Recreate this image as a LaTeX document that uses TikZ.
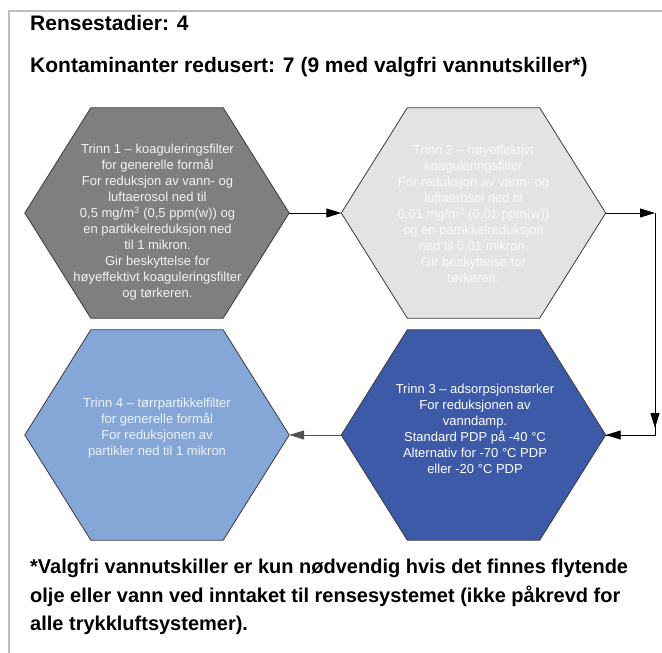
\documentclass[tikz,border=0pt]{standalone}
\usepackage{fontspec}
\setmainfont{Liberation Sans}
\usetikzlibrary{arrows.meta}
\definecolor{framegray}{HTML}{BFBFBF}
\definecolor{hexline}{HTML}{3A3A3A}
\definecolor{hexA}{HTML}{7F7F7F}
\definecolor{hexB}{HTML}{E3E3E3}
\definecolor{hexC}{HTML}{3D5AA8}
\definecolor{hexD}{HTML}{85A7D8}
\definecolor{txtA}{HTML}{F2F2F2}
\definecolor{txtB}{HTML}{F9F9F9}
\definecolor{txtD}{HTML}{EEF3FA}
\definecolor{arrgray}{HTML}{505050}
\newcommand{\hexshape}[2]{%
  \path[hexpath, fill=#2] (#1.west) -- ([xshift=66pt]#1.north west) -- ([xshift=-66pt]#1.north east)
    -- (#1.east) -- ([xshift=-66pt]#1.south east) -- ([xshift=66pt]#1.south west) -- cycle;}
\begin{document}
\begin{tikzpicture}[x=1pt,y=-1pt,
  hexbox/.style={rectangle, minimum width=264pt, minimum height=210pt, inner sep=0pt},
  hexpath/.style={draw=hexline, line width=0.8pt, line join=miter},
  hextext/.style={align=center, inner sep=0pt, font=\fontsize{13}{16}\selectfont},
  headtext/.style={anchor=west, inner sep=0pt, font=\fontsize{21}{25}\selectfont\bfseries},
  arr/.style={-{Triangle[length=15pt,width=9pt]}, line width=0.9pt, draw=black},
  frame/.style={draw=framegray, line width=2pt}]
\useasboundingbox (0,0) rectangle (662,653);
% frame
\coordinate (fa) at (9,11);
\coordinate (fb) at (662,11);
\coordinate (fc) at (9,653);
\draw[frame] (fb) -- (fa) -- (fc);
% headings
\node[headtext] (title) at (30,23) {Rensestadier: 4};
\node[headtext] (sub) at (30,67) {Kontaminanter redusert: 7 (9 med valgfri vannutskiller*)};
% hexagons
\node[hexbox] (h1) at (157,213) {};
\node[hexbox] (h2) at (473.5,213) {};
\node[hexbox] (h3) at (473.5,435) {};
\node[hexbox] (h4) at (157,435) {};
\hexshape{h1}{hexA}
\hexshape{h2}{hexB}
\hexshape{h3}{hexC}
\hexshape{h4}{hexD}
% texts
\node[hextext, text=txtA] (t1) at (157.5,222) {Trinn 1 – koaguleringsfilter\\for generelle formål\\For reduksjon av vann- og\\luftaerosol ned til\\0,5 mg/m\textsuperscript{3} (0,5 ppm(w)) og\\en partikkelreduksjon ned\\til 1 mikron.\\Gir beskyttelse for\\høyeffektivt koaguleringsfilter\\og tørkeren.};
\node[hextext, text=txtB] (t2) at (473.5,214) {Trinn 2 – høyeffektivt\\koaguleringsfilter\\For reduksjon av vann- og\\luftaerosol ned til\\0,01 mg/m\textsuperscript{3} (0,01 ppm(w))\\og en partikkelreduksjon\\ned til 0,01 mikron.\\Gir beskyttelse for\\tørkeren.};
\node[hextext, text=white] (t3) at (475,428.5) {Trinn 3 – adsorpsjonstørker\\For reduksjonen av\\vanndamp.\\Standard PDP på -40 °C\\Alternativ for -70 °C PDP\\eller -20 °C PDP};
\node[hextext, text=txtD] (t4) at (157,428) {Trinn 4 – tørrpartikkelfilter\\for generelle formål\\For reduksjonen av\\partikler ned til 1 mikron};
% connectors
\coordinate (c1) at (655,213);
\coordinate (c2) at (655,435);
\draw[arr] (h1.east) -- (h2.west);
\draw[arr] (h2.east) -- (c1);
\draw[line width=0.9pt] (c1) -- (c2) -- (h3.east);
\draw[arr, shorten >=7pt] (c1) -- (c2);
\draw[arr] (c2) -- (h3.east);
\draw[arr, draw=arrgray] (h3.west) -- (h4.east);
% footnote
\node[anchor=north west, align=left, inner sep=0pt, font=\fontsize{20}{28.5}\selectfont\bfseries] (foot) at (30,559)
 {*Valgfri vannutskiller er kun nødvendig hvis det finnes flytende\\olje eller vann ved inntaket til rensesystemet (ikke påkrevd for\\alle trykkluftsystemer).};
\end{tikzpicture}
\end{document}
